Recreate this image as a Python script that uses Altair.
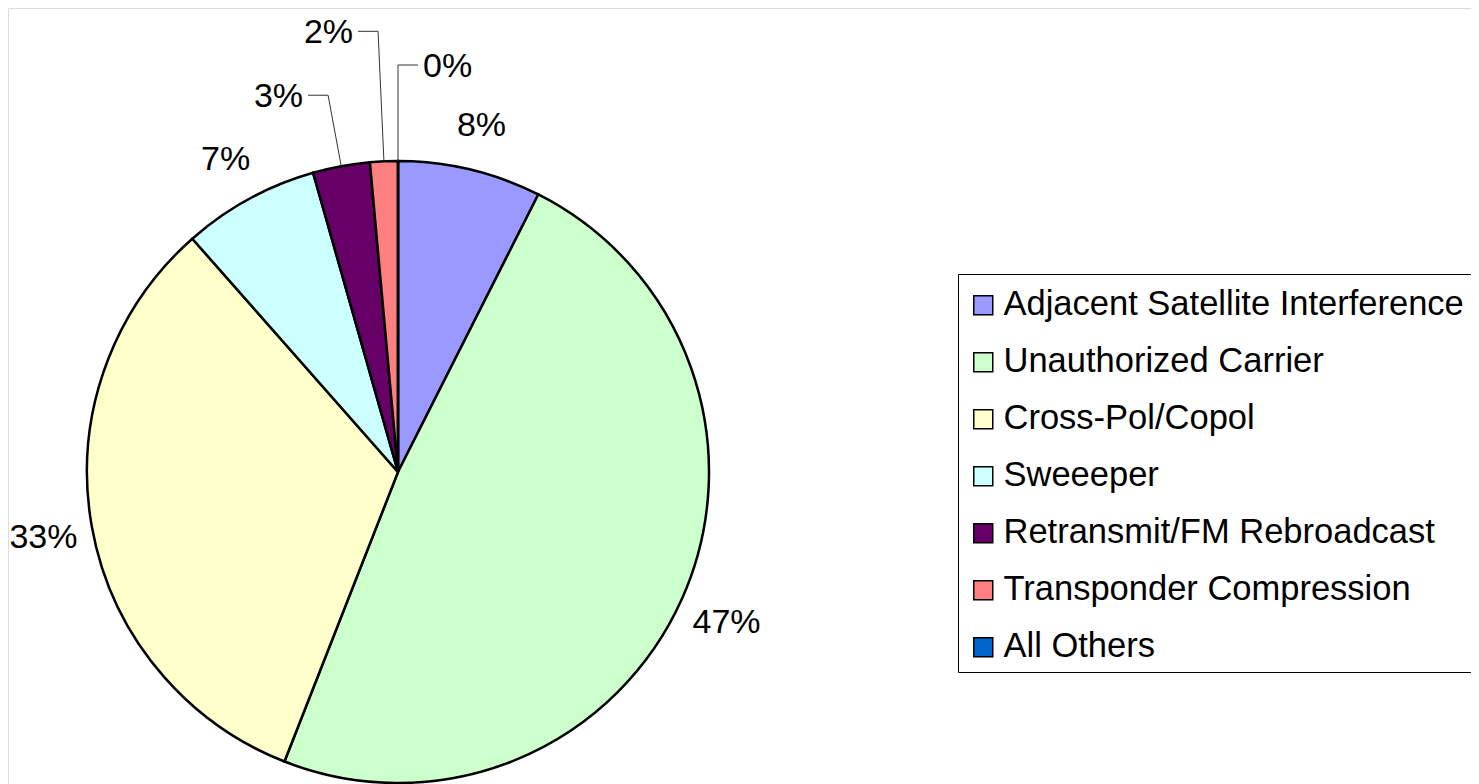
import altair as alt
import pandas as pd

# ---- data ----
categories = [
    "Adjacent Satellite Interference",
    "Unauthorized Carrier",
    "Cross-Pol/Copol",
    "Sweeeper",
    "Retransmit/FM Rebroadcast",
    "Transponder Compression",
    "All Others",
]
shares = [7.45, 48.5, 32.55, 7.1, 2.96, 1.44, 0.0]
pct_labels = ["8%", "47%", "33%", "7%", "3%", "2%", "0%"]
colors = ["#9999FF", "#CCFFCC", "#FFFFCC", "#CCFFFF", "#660066", "#FF8080", "#0066CC"]

# ---- styling: vertical rise of leader lines for narrow slices (0 = plain label) ----
leader_rise = [0, 0, 0, 0, 71, 130, 96]

W, H = 1463, 776          # whole canvas (page margin is 8px)
CX, CY = 390, 464         # pie centre inside the canvas
R = 311                   # pie radius
R_LAB = 360               # label radius for wide slices
FONT = "Liberation Sans"

df = pd.DataFrame({
    "cat": categories,
    "value": shares,
    "label": pct_labels,
    "idx": list(range(len(categories))),
    "rise": leader_rise,
})

xs = alt.Scale(domain=[-CX, W - CX], range=[0, W], nice=False, zero=False)
ys = alt.Scale(domain=[-CY, H - CY], range=[0, H], nice=False, zero=False)


def geo():
    return (
        alt.Chart(df)
        .transform_window(cum="sum(value)", sort=[alt.SortField("idx")], frame=[None, 0])
        .transform_joinaggregate(total="sum(value)")
        .transform_calculate(frac="(datum.cum - datum.value / 2) / datum.total")
        .transform_calculate(
            ang="2 * PI * datum.frac",
            side="(datum.frac % 1) < 0.5 ? 1 : -1",
        )
        .transform_calculate(
            ex=f"{R} * sin(datum.ang)",
            ey=f"-{R} * cos(datum.ang)",
            bx=f"{R_LAB} * sin(datum.ang)",
            by=f"-{R_LAB} * cos(datum.ang)",
        )
        .transform_calculate(
            ky="datum.ey - datum.rise",
        )
        .transform_calculate(
            kx="datum.ex * datum.ky / datum.ey",
        )
        .transform_calculate(
            hx="datum.kx + datum.side * 20",
            tx="datum.kx + datum.side * 25",
        )
    )


arcs = (
    alt.Chart(df)
    .mark_arc(outerRadius=R, stroke="black", strokeWidth=2.5)
    .encode(
        theta=alt.Theta("value:Q", stack=True),
        order=alt.Order("idx:Q"),
        color=alt.Color(
            "cat:N",
            sort=categories,
            scale=alt.Scale(domain=categories, range=colors),
            legend=alt.Legend(
                title=" ",
                titleFontSize=1,
                titlePadding=5,
                orient="none",
                legendX=950,
                legendY=266,
                symbolType="square",
                symbolSize=361,
                symbolStrokeColor="black",
                symbolStrokeWidth=1.5,
                symbolOpacity=1,
                labelFont=FONT,
                labelFontSize=34.5,
                labelColor="black",
                labelOffset=3,
                labelLimit=1000,
                rowPadding=22,
                padding=8,
                strokeColor="black",
                fillColor="white",
            ),
        ),
        x=alt.value(CX),
        y=alt.value(CY),
    )
)

lead1 = (
    geo()
    .transform_filter("datum.rise > 0")
    .mark_rule(color="#333333", strokeWidth=1)
    .encode(
        x=alt.X("ex:Q", scale=xs, axis=None),
        y=alt.Y("ey:Q", scale=ys, axis=None),
        x2="kx:Q",
        y2="ky:Q",
    )
)
lead2 = (
    geo()
    .transform_filter("datum.rise > 0")
    .mark_rule(color="#333333", strokeWidth=1)
    .encode(
        x=alt.X("kx:Q", scale=xs, axis=None),
        y=alt.Y("ky:Q", scale=ys, axis=None),
        x2="hx:Q",
        y2="ky:Q",
    )
)

txt_kw = dict(font=FONT, fontSize=34, color="black", baseline="middle")

big_txt = (
    geo()
    .transform_filter("datum.rise == 0")
    .mark_text(align="center", dy=4, **txt_kw)
    .encode(
        x=alt.X("bx:Q", scale=xs, axis=None),
        y=alt.Y("by:Q", scale=ys, axis=None),
        text="label:N",
    )
)
left_txt = (
    geo()
    .transform_filter("datum.rise > 0 && datum.side < 0")
    .mark_text(align="right", dy=2, **txt_kw)
    .encode(
        x=alt.X("tx:Q", scale=xs, axis=None),
        y=alt.Y("ky:Q", scale=ys, axis=None),
        text="label:N",
    )
)
right_txt = (
    geo()
    .transform_filter("datum.rise > 0 && datum.side > 0")
    .mark_text(align="left", dy=2, **txt_kw)
    .encode(
        x=alt.X("tx:Q", scale=xs, axis=None),
        y=alt.Y("ky:Q", scale=ys, axis=None),
        text="label:N",
    )
)

chart = (
    alt.layer(arcs, lead1, lead2, big_txt, left_txt, right_txt)
    .properties(width=W, height=H, autosize="none", padding=0, background="white")
    .configure_view(stroke="white", strokeOpacity=0, strokeWidth=0)
    .configure(font=FONT)
)

chart.save("out.html", embed_options={"renderer": "svg", "actions": False})
